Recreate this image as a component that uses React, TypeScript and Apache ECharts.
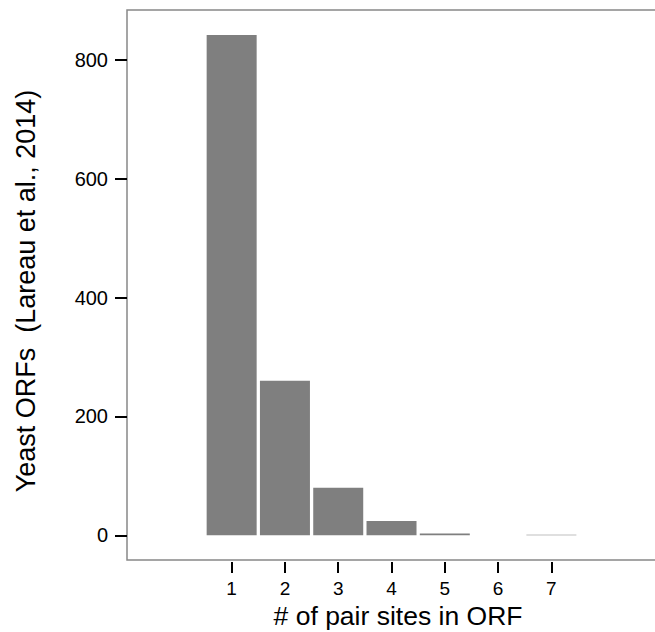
import React, { useEffect, useRef } from "react";
import * as echarts from "echarts";

const categories = [1, 2, 3, 4, 5, 6, 7];
const counts = [842, 260, 80, 24, 3, 0, 1];
const yTicks = [0, 200, 400, 600, 800];

const FONT = "'Liberation Sans', Arial, Helvetica, sans-serif";

export default function App() {
  const ref = useRef<HTMLDivElement>(null);
  useEffect(() => {
    if (!ref.current) return;
    const chart = echarts.init(ref.current, null, { renderer: "svg" });
    chart.setOption({
      animation: false,
      backgroundColor: "#ffffff",
      grid: {
        left: 127,
        top: 10,
        height: 550,
        width: 548,
        outerBoundsMode: "none",
        containLabel: false,
        show: true,
        borderColor: "#888888",
        borderWidth: 1.5,
        backgroundColor: "#ffffff",
      },
      xAxis: {
        type: "value",
        min: -0.964,
        max: 9.32,
        offset: 2,
        splitLine: { show: false },
        axisLine: { show: false, onZero: false },
        axisTick: {
          show: true,
          customValues: categories,
          length: 11,
          lineStyle: { color: "#000", width: 2 },
        },
        axisLabel: {
          customValues: categories,
          margin: 17,
          fontSize: 19,
          color: "#000",
          fontFamily: FONT,
        },
      },
      yAxis: {
        type: "value",
        min: -41.6,
        max: 884,
        splitLine: { show: false },
        axisLine: { show: false, onZero: false },
        axisTick: {
          show: true,
          customValues: yTicks,
          length: 12,
          lineStyle: { color: "#000", width: 2 },
        },
        axisLabel: {
          customValues: yTicks,
          margin: 19,
          fontSize: 20,
          color: "#000",
          fontFamily: FONT,
        },
      },
      graphic: [
        {
          type: "text",
          x: 398,
          y: 616,
          style: {
            text: "# of pair sites in ORF",
            fontSize: 26.5,
            fontFamily: FONT,
            fill: "#000",
            align: "center",
            verticalAlign: "middle",
          },
        },
        {
          type: "text",
          x: 26,
          y: 291,
          rotation: Math.PI / 2,
          style: {
            text: "Yeast ORFs  (Lareau et al., 2014)",
            fontSize: 27,
            fontFamily: FONT,
            fill: "#000",
            align: "center",
            verticalAlign: "middle",
          },
        },
      ],
      series: [
        {
          type: "bar",
          data: categories.map((c, i) => [c, counts[i]]),
          barWidth: 50,
          itemStyle: { color: "#7f7f7f" },
        },
      ],
    });
    return () => chart.dispose();
  }, []);
  return (
    <div
      ref={ref}
      style={{ position: "fixed", left: 0, top: 0, width: 655, height: 632 }}
    />
  );
}
